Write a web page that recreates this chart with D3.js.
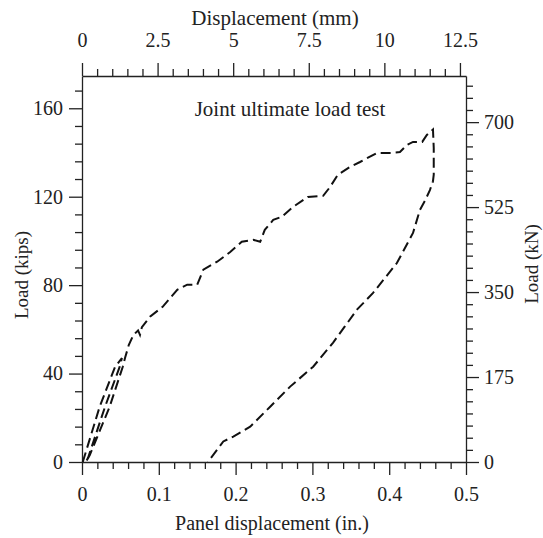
<!DOCTYPE html>
<html>
<head>
<meta charset="utf-8">
<script src="https://cdn.jsdelivr.net/npm/d3@7"></script>
<style>
  body { margin: 0; background: #fff; }
  text { font-family: "Liberation Serif", "Times New Roman", serif; fill: #222; }
</style>
</head>
<body>
<div id="chart"></div>
<script>
// data: panel displacement (in.) and load (kips)
// initial load cycles
var cycleX = [0.001, 0.023, 0.043, 0.052, 0.049, 0.030, 0.008, 0.005, 0.010, 0.036, 0.053, 0.056];
var cycleY = [0, 25, 43, 47, 43, 25, 2, 0, 3, 25, 43, 47];
// loading envelope up to peak
var loadX = [0.056, 0.061, 0.067, 0.073, 0.0755, 0.078, 0.0885, 0.105, 0.124, 0.137, 0.150, 0.158, 0.176, 0.193, 0.208, 0.223, 0.232, 0.238, 0.249, 0.260, 0.275, 0.294, 0.314, 0.323, 0.333, 0.349, 0.362, 0.384, 0.401, 0.414, 0.423, 0.431, 0.443, 0.449, 0.457];
var loadY = [47, 53, 57.5, 59.5, 57.5, 61, 65.7, 70.2, 77.9, 80.2, 80.2, 87, 90.6, 95, 99.6, 100.5, 99.6, 105, 109.5, 110.9, 115.4, 119.9, 120.4, 124.4, 129.9, 133.5, 135.7, 139.8, 139.8, 140.2, 143.4, 144.8, 144.8, 147.9, 150.4];
// unloading branch
var unloadX = [0.457, 0.458, 0.458, 0.457, 0.453, 0.447, 0.440, 0.431, 0.410, 0.379, 0.358, 0.342, 0.327, 0.301, 0.271, 0.245, 0.219, 0.197, 0.184, 0.164];
var unloadY = [150.4, 142, 130, 127, 123, 118.5, 114, 103.6, 90, 76.5, 68.9, 61.2, 54, 43.1, 34.1, 25, 16, 11.5, 9.3, 0];

// tick values
var xTicks = [0, 0.1, 0.2, 0.3, 0.4, 0.5];
var mmTicks = [0, 2.5, 5, 7.5, 10, 12.5];
var kipTicks = [0, 40, 80, 120, 160];
var kNTicks = [0, 175, 350, 525, 700];

var W = 543, H = 538;
var margin = {top: 76, right: 77, bottom: 76, left: 82};
var width = W - margin.left - margin.right,
    height = H - margin.top - margin.bottom;

var svg = d3.select("#chart").append("svg")
    .attr("width", W).attr("height", H)
  .append("g")
    .attr("transform", "translate(" + margin.left + "," + margin.top + ")");

var x = d3.scaleLinear().domain([0, 0.5]).range([0, width]);
var xmm = d3.scaleLinear().domain([0, 12.7]).range([0, width]);
var y = d3.scaleLinear().domain([0, 174.6]).range([height, 0]);
var ykN = d3.scaleLinear().domain([0, 795]).range([height, 0]);

function minors(step, max, majors) {
  return d3.range(0, max + 1e-9, step).filter(function(v) {
    return !majors.some(function(m) { return Math.abs(m - v) < 1e-6; });
  });
}

// minor ticks
svg.append("g").attr("class", "minor")
  .attr("transform", "translate(0," + height + ")")
  .call(d3.axisBottom(x).tickValues(minors(0.02, 0.5, xTicks)).tickSize(7).tickFormat(""));
svg.append("g").attr("class", "minor")
  .call(d3.axisTop(xmm).tickValues(minors(0.5, 12.5, mmTicks)).tickSize(7).tickFormat(""));
svg.append("g").attr("class", "minor")
  .call(d3.axisLeft(y).tickValues(minors(8, 174, kipTicks)).tickSize(7).tickFormat(""));
svg.append("g").attr("class", "minor")
  .attr("transform", "translate(" + width + ",0)")
  .call(d3.axisRight(ykN).tickValues(minors(25, 795, kNTicks)).tickSize(7).tickFormat(""));

// major axes
svg.append("g").attr("class", "major")
  .attr("transform", "translate(0," + height + ")")
  .call(d3.axisBottom(x).tickValues(xTicks).tickSize(13).tickSizeOuter(0).tickPadding(12)
    .tickFormat(function(d) { return d === 0 ? "0" : d3.format(".1f")(d); }));
svg.append("g").attr("class", "major")
  .call(d3.axisTop(xmm).tickValues(mmTicks).tickSize(13).tickSizeOuter(0).tickPadding(16)
    .tickFormat(function(d) { return String(d); }));
svg.append("g").attr("class", "major")
  .call(d3.axisLeft(y).tickValues(kipTicks).tickSize(13).tickSizeOuter(0).tickPadding(6));
svg.append("g").attr("class", "major")
  .attr("transform", "translate(" + width + ",0)")
  .call(d3.axisRight(ykN).tickValues(kNTicks).tickSize(13).tickSizeOuter(0).tickPadding(5));

svg.selectAll(".major, .minor").attr("font-family", null).attr("font-size", null);
svg.selectAll(".domain").attr("stroke", "#222").attr("stroke-width", 1.3);
svg.selectAll(".tick line").attr("stroke", "#222").attr("stroke-width", 1.3);
svg.selectAll(".tick text").attr("font-size", 20).attr("fill", "#222");
svg.selectAll(".minor .domain").remove();

// curves
function pts(xs, ys) { return xs.map(function(v, i) { return [v, ys[i]]; }); }
var line = d3.line().x(function(d) { return x(d[0]); }).y(function(d) { return y(d[1]); });
var allPts = pts(cycleX, cycleY).concat(pts(loadX, loadY).slice(1), pts(unloadX, unloadY).slice(1));

svg.append("path")
  .datum(allPts)
  .attr("d", line)
  .attr("fill", "none")
  .attr("stroke", "#111")
  .attr("stroke-width", 2)
  .attr("stroke-dasharray", "10,5");

// titles
svg.append("text")
  .attr("x", 193).attr("y", -51)
  .attr("text-anchor", "middle").attr("font-size", 21)
  .text("Displacement (mm)");
svg.append("text")
  .attr("x", 190).attr("y", height + 68)
  .attr("text-anchor", "middle").attr("font-size", 20)
  .text("Panel displacement (in.)");
svg.append("text")
  .attr("transform", "translate(-54,199) rotate(-90)")
  .attr("text-anchor", "middle").attr("font-size", 19)
  .text("Load (kips)");
svg.append("text")
  .attr("transform", "translate(" + (width + 72) + ",188) rotate(-90)")
  .attr("text-anchor", "middle").attr("font-size", 19)
  .text("Load (kN)");
svg.append("text")
  .attr("x", 208).attr("y", 40)
  .attr("text-anchor", "middle").attr("font-size", 21)
  .text("Joint ultimate load test");
</script>
</body>
</html>
